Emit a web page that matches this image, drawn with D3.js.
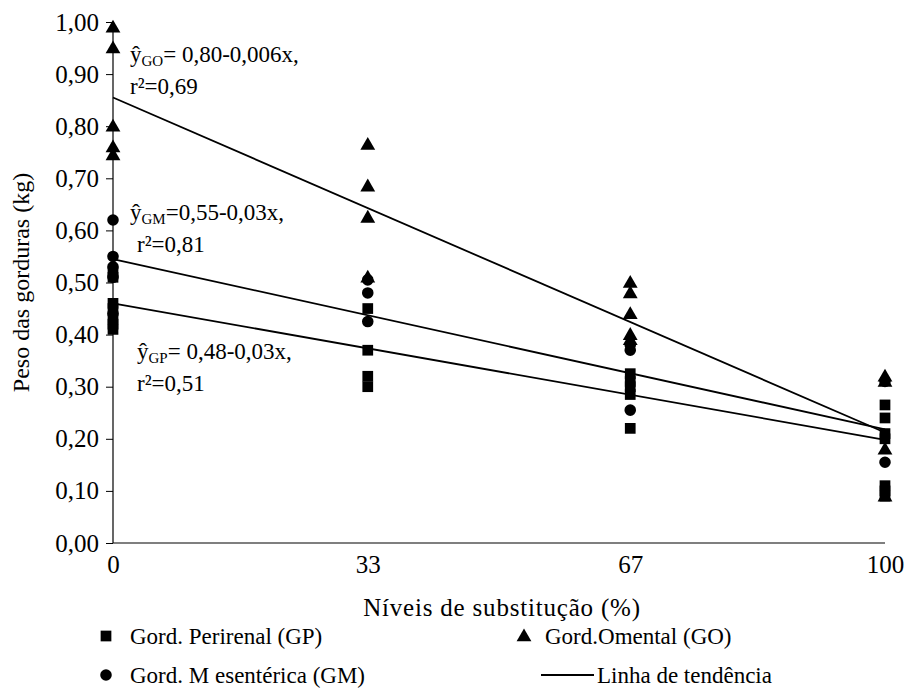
<!DOCTYPE html>
<html>
<head>
<meta charset="utf-8">
<script src="https://cdn.jsdelivr.net/npm/d3@7"></script>
<style>
  body { margin: 0; background: #fff; }
</style>
</head>
<body>
<div id="chart"></div>
<script>
// niveis de substituicao
const niveis = [0, 33, 67, 100];
const yTicks = [0, 0.1, 0.2, 0.3, 0.4, 0.5, 0.6, 0.7, 0.8, 0.9, 1.0];

// valores lidos por nivel (kg)
const perirenal = [
  [0.52, 0.51, 0.46, 0.45, 0.43, 0.42, 0.41],
  [0.45, 0.37, 0.32, 0.30],
  [0.325, 0.31, 0.30, 0.285, 0.22],
  [0.265, 0.24, 0.21, 0.20, 0.11, 0.10, 0.09]
];
const mesenterica = [
  [0.62, 0.55, 0.53, 0.51, 0.44],
  [0.505, 0.48, 0.425],
  [0.38, 0.37, 0.255],
  [0.31, 0.155]
];
const omental = [
  [0.99, 0.95, 0.80, 0.76, 0.745],
  [0.765, 0.685, 0.625, 0.51],
  [0.50, 0.48, 0.44, 0.40, 0.39],
  [0.32, 0.31, 0.18, 0.09]
];

// linhas de tendencia: valor em x=0 e x=100
const tendGO = [0.855, 0.212];
const tendGM = [0.545, 0.218];
const tendGP = [0.46, 0.198];

const width = 905, height = 693;
const fonte = "'Liberation Serif'";
const x = d3.scaleLinear().domain([0, 100]).range([113, 885]);
const y = d3.scaleLinear().domain([0, 1]).range([543, 22]);

const svg = d3.select("#chart").append("svg")
  .attr("width", width).attr("height", height)
  .style("font-family", fonte);

// eixos
const yAxis = svg.append("g")
  .attr("transform", `translate(${x(0)},0)`)
  .call(d3.axisLeft(y).tickValues(yTicks).tickSize(7).tickPadding(7)
    .tickFormat(d => d3.format(".2f")(d).replace(".", ",")));
const xAxis = svg.append("g")
  .attr("transform", `translate(0,${y(0)})`)
  .call(d3.axisBottom(x).tickValues(niveis).tickSize(0).tickPadding(22));

[yAxis, xAxis].forEach(g => {
  g.style("font-family", fonte);
  g.select(".domain").attr("stroke", "#000").attr("stroke-width", 1.2);
  g.selectAll(".tick line").attr("stroke", "#000");
  g.selectAll(".tick text").style("font-family", fonte).style("font-size", "25px").attr("fill", "#000");
});
yAxis.select(".domain").attr("d", `M0,${y(1)}V${y(0)}`);
xAxis.select(".domain").attr("d", `M${x(0)},0H${x(100)}`);
xAxis.selectAll(".tick text").attr("dy", "0.32em");

// titulos
svg.append("text")
  .attr("transform", `translate(29,${(y(0) + y(1)) / 2}) rotate(-90)`)
  .attr("text-anchor", "middle")
  .style("font-family", fonte).style("font-size", "24px")
  .text("Peso das gorduras (kg)");
svg.append("text")
  .attr("x", 502).attr("y", 616)
  .attr("text-anchor", "middle")
  .style("font-family", fonte).style("font-size", "25px")
  .style("letter-spacing", "0.8px")
  .text("Níveis de substitução (%)");

// linhas de tendencia
[tendGO, tendGM, tendGP].forEach(t => {
  svg.append("line")
    .attr("x1", x(0)).attr("y1", y(t[0]))
    .attr("x2", x(100)).attr("y2", y(t[1]))
    .attr("stroke", "#000").attr("stroke-width", 1.8);
});

function pontos(grupo) {
  const out = [];
  grupo.forEach((vals, i) => vals.forEach(v => out.push({ x: niveis[i], y: v })));
  return out;
}

const sym = {
  square: d3.symbol().type(d3.symbolSquare).size(115),
  circle: d3.symbol().type(d3.symbolCircle).size(105),
  triangle: d3.symbol().type(d3.symbolTriangle).size(95)
};

svg.append("g").selectAll("path").data(pontos(perirenal)).enter().append("path")
  .attr("d", sym.square).attr("transform", d => `translate(${x(d.x)},${y(d.y)})`);
svg.append("g").selectAll("path").data(pontos(mesenterica)).enter().append("path")
  .attr("d", sym.circle).attr("transform", d => `translate(${x(d.x)},${y(d.y)})`);
svg.append("g").selectAll("path").data(pontos(omental)).enter().append("path")
  .attr("d", sym.triangle).attr("transform", d => `translate(${x(d.x)},${y(d.y) + 1})`);

// equacoes
function equacao(px, py, sub, resto, r2, r2x) {
  const t = svg.append("text").attr("x", px).attr("y", py)
    .style("font-family", fonte).style("font-size", "23px");
  t.append("tspan").text("ŷ");
  t.append("tspan").attr("dy", 4).style("font-size", "15px").text(sub);
  t.append("tspan").attr("dy", -4).text(resto);
  svg.append("text").attr("x", r2x).attr("y", py + 32)
    .style("font-family", fonte).style("font-size", "23px").text(r2);
}
equacao(130, 62, "GO", "= 0,80-0,006x,", "r²=0,69", 130);
equacao(130, 220, "GM", "=0,55-0,03x,", "r²=0,81", 137);
equacao(137, 359, "GP", "= 0,48-0,03x,", "r²=0,51", 137);

// legenda
const leg = svg.append("g").style("font-family", fonte).style("font-size", "23px");
leg.append("path").attr("d", sym.square).attr("transform", "translate(106,636)");
leg.append("text").attr("x", 130).attr("y", 644).text("Gord. Perirenal (GP)");
leg.append("path").attr("d", sym.triangle).attr("transform", "translate(524,637)");
leg.append("text").attr("x", 545).attr("y", 644).text("Gord.Omental (GO)");
leg.append("path").attr("d", sym.circle).attr("transform", "translate(106,675)");
leg.append("text").attr("x", 130).attr("y", 683).text("Gord. M esentérica (GM)");
leg.append("line").attr("x1", 541).attr("x2", 594).attr("y1", 675).attr("y2", 675)
  .attr("stroke", "#000").attr("stroke-width", 1.8);
leg.append("text").attr("x", 597).attr("y", 683).text("Linha de tendência");
</script>
</body>
</html>
